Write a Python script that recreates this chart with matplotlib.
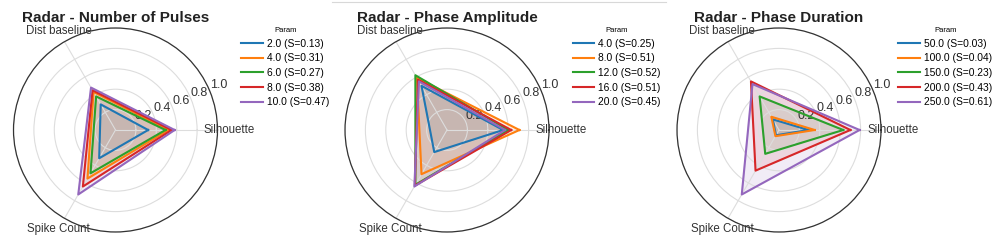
import numpy as np
import matplotlib.pyplot as plt
from matplotlib.lines import Line2D

plt.rcParams['font.family'] = ['Liberation Sans', 'DejaVu Sans']

metrics = ['Silhouette', 'Dist baseline', 'Spike Count']
colors = ['#1f77b4', '#ff7f0e', '#2ca02c', '#d62728', '#9467bd']

# Number of Pulses
pulses_params = [2.0, 4.0, 6.0, 8.0, 10.0]
pulses_scores = [0.13, 0.31, 0.27, 0.38, 0.47]
pulses_values = [
    [0.32, 0.29, 0.32],
    [0.52, 0.43, 0.55],
    [0.49, 0.38, 0.49],
    [0.55, 0.45, 0.64],
    [0.58, 0.48, 0.73],
]

# Phase Amplitude
amp_params = [4.0, 8.0, 12.0, 16.0, 20.0]
amp_scores = [0.25, 0.51, 0.52, 0.51, 0.45]
amp_values = [
    [0.55, 0.50, 0.25],
    [0.71, 0.59, 0.50],
    [0.60, 0.62, 0.62],
    [0.63, 0.57, 0.63],
    [0.57, 0.55, 0.64],
]

# Phase Duration
dur_params = [50.0, 100.0, 150.0, 200.0, 250.0]
dur_scores = [0.03, 0.04, 0.23, 0.43, 0.61]
dur_values = [
    [0.29, 0.12, 0.06],
    [0.35, 0.15, 0.07],
    [0.63, 0.38, 0.27],
    [0.70, 0.55, 0.46],
    [0.79, 0.52, 0.73],
]

panels = [
    ('Radar - Number of Pulses', pulses_params, pulses_scores, pulses_values),
    ('Radar - Phase Amplitude', amp_params, amp_scores, amp_values),
    ('Radar - Phase Duration', dur_params, dur_scores, dur_values),
]

angles = np.linspace(0, 2 * np.pi, len(metrics), endpoint=False)
closed = np.append(angles, angles[0])

W, H = 997, 244
fig = plt.figure(figsize=(W / 100, H / 100), dpi=100)

# thin separator left over at the top of the middle panel
fig.add_artist(Line2D([332 / W, 666 / W], [1 - 1.5 / H] * 2,
                      color='#d8d8d8', linewidth=0.8))

centers = [115.5, 447, 779]
legend_x = [1.07, 1.07, 1.04]
R = 102
for cx, lx, (title, params, scores, values) in zip(centers, legend_x, panels):
    ax = fig.add_axes([(cx - R) / W, (H - 130 - R) / H, 2 * R / W, 2 * R / H],
                      projection='polar')
    for p, s, vals, c in zip(params, scores, values, colors):
        v = vals + vals[:1]
        ax.plot(closed, v, color=c, linewidth=1.5, label=f'{p:.1f} (S={s:.2f})')
        ax.fill(closed, v, color=c, alpha=0.12)

    ax.set_ylim(0, 1)
    ax.set_xticks(angles)
    ax.set_xticklabels(metrics, fontsize=8.3, color='#333333')
    ax.set_yticks([0.2, 0.4, 0.6, 0.8, 1.0])
    ax.set_yticklabels(['0.2', '0.4', '0.6', '0.8', '1.0'], fontsize=9, color='#333333')
    ax.tick_params(axis='x', pad=-2)
    ax.grid(color='#dddddd', linewidth=0.8)
    ax.spines['polar'].set_color('#333333')
    ax.spines['polar'].set_linewidth(0.9)

    ax.set_title(title, fontsize=11, fontweight='bold', color='#222222',
                 y=1.03, pad=0)
    ax.legend(title='Param', loc='upper left', bbox_to_anchor=(lx, 1.05),
              fontsize=7.4, title_fontsize=5.5, frameon=False,
              handlelength=2.1, handletextpad=0.4, labelspacing=0.45)

fig.savefig('out.png', dpi=100)
